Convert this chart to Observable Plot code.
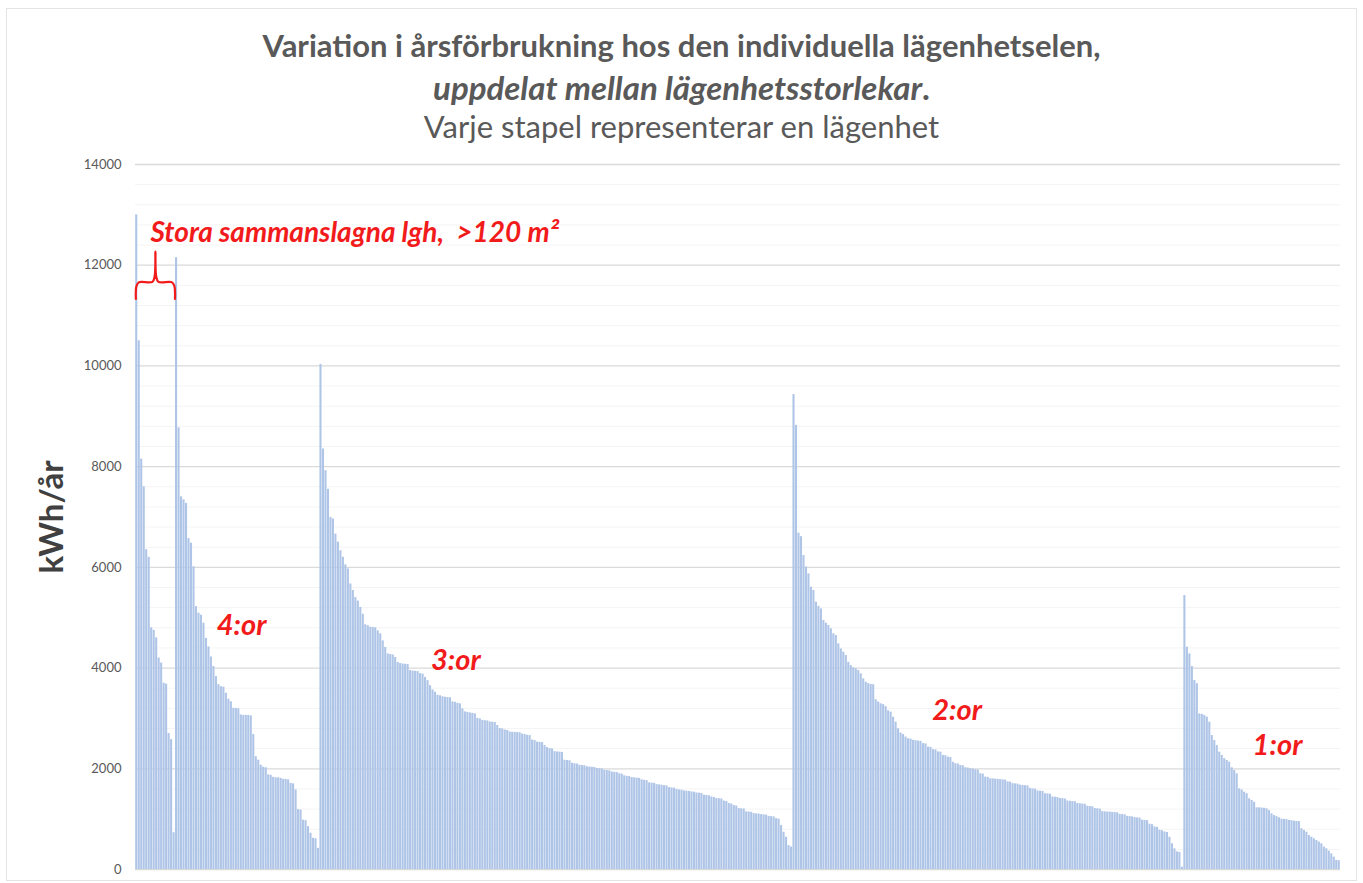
<!DOCTYPE html>
<html>
<head>
<meta charset="utf-8">
<script src="https://cdn.jsdelivr.net/npm/d3@7"></script>
<script src="https://cdn.jsdelivr.net/npm/@observablehq/plot@0.6"></script>
<style>
  body { margin: 0; background: #fff; font-family: Lato, "Open Sans", sans-serif; }
  #wrap { position: relative; width: 1363px; height: 883px; overflow: hidden; background: #fff; }
  #frame { position: absolute; left: 6px; top: 8px; width: 1351px; height: 873px; border: 1px solid #e4e4e4; box-sizing: border-box; }
  #titles { position: absolute; left: 0; top: 0; width: 1363px; height: 150px; text-align: center; color: #595959; }
  .t { position: absolute; left: 0; width: 100%; white-space: nowrap; line-height: 36px; }
  #chart { position: absolute; left: 0; top: 150px; }
</style>
</head>
<body>
<div id="wrap">
  <div id="frame"></div>
  <div id="titles">
    <div class="t" style="top:27px;font-size:31px;font-weight:700;">Variation i årsförbrukning hos den individuella lägenhetselen,</div>
    <div class="t" style="top:69px;font-size:33px;font-weight:700;"><i>uppdelat mellan lägenhetsstorlekar</i>.</div>
    <div class="t" style="top:108px;font-size:31px;font-weight:400;">Varje stapel representerar en lägenhet</div>
  </div>
  <div id="chart"></div>
</div>
<script>
// ---- Data (kWh/år per lägenhet, sorted within each size group) ----
const groupNames = ["Stora", "4:or", "3:or", "2:or", "1:or"];

const stora = [13000, 10500, 8150, 7600, 6350, 6200, 4800, 4750, 4600, 4200, 4100, 3700, 3680, 2700, 2580, 730];

const fyror = [12150, 8770, 7400, 7340, 7270, 6570, 6480, 6010, 5220, 5090,
  5050, 4890, 4590, 4420, 4220, 4030, 3830, 3670, 3630, 3620,
  3500, 3380, 3330, 3200, 3200, 3190, 3070, 3060, 3060, 3060,
  3050, 2680, 2240, 2170, 2070, 2030, 2020, 1880, 1870, 1830,
  1820, 1820, 1810, 1790, 1790, 1780, 1710, 1700, 1580, 1190,
  1180, 980, 970, 850, 720, 620, 610, 420];

const treor = [10030, 8350, 7920, 7550, 6990, 6960, 6660, 6500, 6330, 6200,
  6050, 5970, 5670, 5540, 5400, 5330, 5205, 5070, 4860, 4840,
  4810, 4805, 4800, 4740, 4680, 4540, 4410, 4280, 4270, 4260,
  4210, 4110, 4090, 4080, 4075, 4070, 3950, 3940, 3935, 3930,
  3890, 3880, 3815, 3750, 3650, 3565, 3520, 3460, 3450, 3430,
  3420, 3415, 3410, 3330, 3320, 3300, 3290, 3190, 3130, 3120,
  3110, 3100, 3090, 3000, 2990, 2960, 2955, 2950, 2930, 2925,
  2920, 2860, 2800, 2790, 2770, 2760, 2730, 2725, 2722, 2720,
  2715, 2690, 2680, 2665, 2660, 2570, 2560, 2530, 2525, 2520,
  2460, 2420, 2400, 2395, 2340, 2335, 2330, 2325,
  2170, 2165, 2160, 2110, 2100, 2095, 2070, 2065, 2060, 2040,
  2035, 2030, 2025, 2005, 2000, 1995, 1970, 1965, 1960, 1935,
  1930, 1925, 1900, 1895, 1860, 1850, 1845, 1825, 1820, 1815,
  1810, 1780, 1770, 1765, 1720, 1715, 1710, 1685, 1680, 1675,
  1665, 1660, 1625, 1620, 1615, 1590, 1580, 1575, 1560, 1555,
  1550, 1540, 1535, 1520, 1515, 1510, 1475, 1470, 1465, 1440,
  1430, 1410, 1405, 1400, 1360, 1350, 1310, 1300, 1270, 1260,
  1210, 1205, 1200, 1145, 1140, 1135, 1110, 1105, 1100, 1090,
  1085, 1080, 1055, 1050, 1045, 1010, 1000, 875, 740, 640,
  475, 445];

const tvaor = [9430, 8820, 6680, 6610, 6235, 6005, 5870, 5605, 5540, 5310,
  5225, 5175, 4945, 4890, 4845, 4780, 4680, 4645, 4480, 4380,
  4315, 4250, 4115, 4050, 4005, 3985, 3950, 3885, 3785, 3720,
  3690, 3675, 3670, 3370, 3325, 3290, 3275, 3235, 3150, 3125,
  3025, 2925, 2795, 2710, 2680, 2630, 2595, 2590, 2565, 2560,
  2550, 2545, 2500, 2495, 2430, 2425, 2380, 2375, 2335, 2330,
  2265, 2260, 2230, 2225, 2130, 2100, 2095, 2065, 2060, 2020,
  2015, 2000, 1995, 1980, 1975, 1900, 1895, 1835, 1830, 1800,
  1800, 1795,
  1790, 1785, 1780, 1775, 1740, 1735, 1705, 1700, 1695, 1675,
  1670, 1665, 1660, 1610, 1600, 1595, 1560, 1555, 1550, 1505,
  1500, 1495, 1440, 1435, 1430, 1410, 1405, 1400, 1360, 1355,
  1350, 1345, 1310, 1305, 1300, 1295, 1255, 1250, 1245, 1210,
  1205, 1200, 1150, 1145, 1140, 1140, 1135, 1130, 1125, 1095,
  1090, 1085, 1055, 1050, 1045, 1030, 1025, 1020, 980, 975,
  970, 900, 890, 845, 835, 780, 770, 745, 735, 640,
  510, 410, 350, 340, 45];

const ettor = [5440, 4415, 4280, 4030, 3755, 3690, 3090, 3080, 3060, 3025,
  2925, 2660, 2560, 2460, 2330, 2265, 2200, 2165, 2130, 2020,
  1965, 1900, 1600, 1580, 1535, 1505, 1405, 1370, 1335, 1225,
  1225, 1220, 1215, 1205, 1170, 1105, 1070, 1050, 1025, 1000,
  995, 990, 975, 970, 960, 955, 950, 810, 775, 740,
  675, 640, 610, 575, 545, 510, 445, 410, 365, 310,
  245, 180, 175];

const yTicks = [0, 2000, 4000, 6000, 8000, 10000, 12000, 14000];

// annotation text and placement (x in bar-index units, y in kWh/år)
const groupLabels = ["4:or", "3:or", "2:or", "1:or"];
const groupLabelOffset = [16.6, 44.7, 56, 27.7];
const groupLabelY = [4850, 4150, 3160, 2460];
const storaText = "Stora sammanslagna lgh,\u00a0 >120 m²";
const braceX = [0.15, 0.35, 1.3, 6.8, 7.7, 8.0, 8.3, 9.2, 14.7, 15.65, 15.85];
const braceY = [11330, 11580, 11660, 11670, 11780, 12270, 11780, 11670, 11660, 11580, 11330];

// ---- Build rows ----
const series = [stora, fyror, treor, tvaor, ettor];
const rows = [];
const starts = [];
let idx = 0;
series.forEach((arr, g) => {
  starts.push(idx);
  arr.forEach(v => { rows.push({i: idx, v, g: groupNames[g]}); idx++; });
});
const N = idx;

const labels = groupLabels.map((t, k) => ({text: t, x: starts[k + 1] + groupLabelOffset[k], y: groupLabelY[k]}));
const brace = braceX.map((x, k) => ({x: starts[0] + x, y: braceY[k]}));
const minor = d3.range(400, 14000, 400).filter(v => v % 2000 !== 0);

const red = "#f21b1b";
const chart = Plot.plot({
  width: 1363,
  height: 733,
  marginLeft: 135,
  marginRight: 23,
  marginTop: 14,
  marginBottom: 14,
  style: {fontFamily: "Lato, 'Open Sans', sans-serif", fontSize: "13px", color: "#595959", background: "transparent"},
  x: {domain: [0, N], axis: null},
  y: {domain: [0, 14000], ticks: yTicks, tickSize: 0, tickPadding: 14, tickFormat: d => String(d), label: null},
  marks: [
    Plot.ruleY(minor, {stroke: "#f4f4f4", strokeWidth: 1}),
    Plot.ruleY(yTicks, {stroke: "#dadada", strokeWidth: 1.3}),
    Plot.rectY(rows, {x1: "i", x2: d => d.i + 1, y: "v", fill: "#afc5e7", insetLeft: 0.2, insetRight: 0.2}),
    Plot.text(["kWh/år"], {x: () => 0, y: () => 7000, dx: -83, rotate: -90, fontSize: 33, fontWeight: "bold", fill: "#404040"}),
    Plot.line(brace, {x: "x", y: "y", stroke: red, strokeWidth: 2.2, curve: "catmull-rom"}),
    Plot.text([storaText], {x: () => starts[0] + 6, y: () => 12640, textAnchor: "start", fontSize: 28, fontWeight: "bold", fontStyle: "italic", fill: red}),
    Plot.text(labels, {x: "x", y: "y", text: "text", textAnchor: "start", fontSize: 29, fontWeight: "bold", fontStyle: "italic", fill: red})
  ]
});
document.getElementById("chart").appendChild(chart);
</script>
</body>
</html>
